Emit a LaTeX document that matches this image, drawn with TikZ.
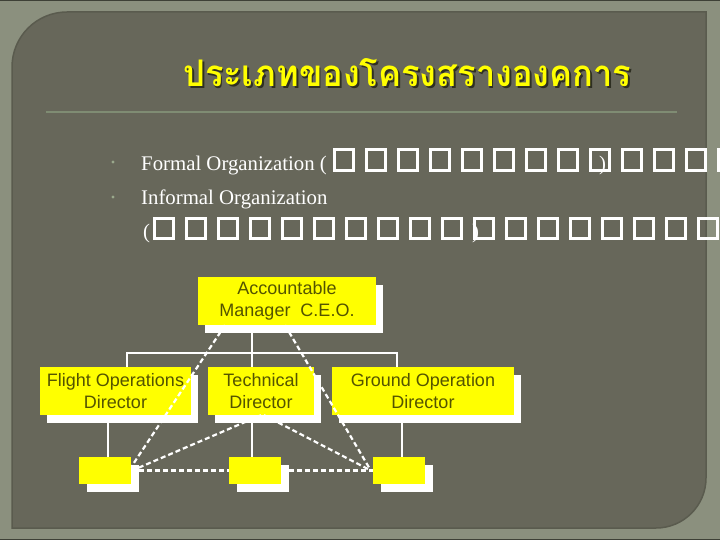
\documentclass[tikz,border=0pt]{standalone}
\usepackage{fontspec}
\setmainfont{Liberation Serif}
\newfontfamily\boxfont{Liberation Sans}
\newfontfamily\thaifont[Script=Thai]{Loma}
\usetikzlibrary{shadows}
\definecolor{framec}{HTML}{8B907E}
\definecolor{panelc}{HTML}{67675A}
\definecolor{rimc}{HTML}{5A5B4E}
\definecolor{edgec}{HTML}{3E4036}
\definecolor{rulec}{HTML}{7F8C73}
\definecolor{bulletc}{HTML}{9AA88C}
\definecolor{boxyellow}{HTML}{FFFF00}
\definecolor{boxtext}{HTML}{545400}
\definecolor{titleshadow}{HTML}{2E2F22}
\newcommand{\titletext}{ประเภทของโครงสรางองคการ}
\newcommand{\titlebox}[1]{\resizebox{448pt}{28pt}{\thaifont\bfseries\textcolor{#1}{\titletext}}}
\tikzset{
  orgbox/.style={fill=boxyellow, text=boxtext, align=center, inner sep=0pt,
    font=\boxfont\fontsize{18}{21.5}\selectfont, minimum height=48pt,
    drop shadow={shadow xshift=7pt, shadow yshift=-7.5pt, fill=white, opacity=1}},
  smallbox/.style={fill=boxyellow, inner sep=0pt, minimum height=27pt, minimum width=52pt,
    drop shadow={shadow xshift=8pt, shadow yshift=-8pt, fill=white, opacity=1}},
  conn/.style={draw=white, line width=1.8pt},
  informal/.style={draw=white, line width=2.2pt, dash pattern=on 5pt off 3pt},
  tofu/.style={draw=white, line width=3pt},
  bodytext/.style={text=white, inner sep=0pt, anchor=base west, font=\fontsize{20.8}{24}\selectfont},
}
\begin{document}
\begin{tikzpicture}[x=1pt,y=-1pt]
\useasboundingbox (0,0) rectangle (720,540);
% frame and panel
\fill[framec] (0,0) rectangle (720,540);
\fill[edgec] (0,0) rectangle (720,1.5);
\fill[edgec] (0,538.5) rectangle (720,540);
\filldraw[fill=panelc, draw=rimc, line width=1.5pt]
  (12,528) -- (12,67) .. controls (12,36.6) and (36.6,12) .. (67,12)
  -- (706,12) -- (706,478) .. controls (706,505.6) and (683.6,528) .. (656,528) -- cycle;
% title (with its shadow in the same text)
\node[anchor=base west, inner sep=0pt] (title) at (183,87)
  {\makebox[0pt][l]{\raisebox{-1.8pt}{\hspace{1.8pt}\titlebox{titleshadow}}}\titlebox{boxyellow}};
\draw[rulec, line width=2pt] (46,112) -- (677,112);
% bullets
\fill[bulletc] (113,162) circle (1.7pt);
\fill[bulletc] (113,197) circle (1.7pt);
\node[bodytext] (formal) at (141,171) {Formal Organization (};
\node[bodytext] (informal) at (141,205) {Informal Organization};
\node[bodytext] (openp) at (143,239) {(};
\foreach \k in {0,...,12}
  \draw[tofu] ({334.5+32*\k},149.5) rectangle ({353.5+32*\k},170.5);
\foreach \k in {0,...,17}
  \draw[tofu] ({154.5+32*\k},218.5) rectangle ({173.5+32*\k},238.5);
\node[bodytext] (closep1) at (599,171) {)};
\node[bodytext] (closep2) at (472,239) {)};
% org chart
\node[orgbox, minimum width=178pt] (ceo) at (287,301) {Accountable\\Manager\ \ C.E.O.};
\node[orgbox, minimum width=151pt] (flight) at (115.5,391) {Flight Operations\\Director};
\node[orgbox, minimum width=106pt] (tech) at (261,391) {Technical\\Director};
\node[orgbox, minimum width=182pt] (ground) at (423,391) {Ground Operation\\Director};
\node[smallbox] (s1) at (105,470.5) {};
\node[smallbox] (s2) at (255,470.5) {};
\node[smallbox] (s3) at (399,470.5) {};
% formal connectors
\coordinate (busL) at (127,353);
\coordinate (busC) at (252,353);
\coordinate (busR) at (397,353);
\coordinate (dropL) at (108,440);
\coordinate (dropC) at (252,440);
\coordinate (dropR) at (402,440);
\draw[conn] (ceo.south -| busC) -- (tech.north -| busC);
\draw[conn] (flight.north -| busL) -- (busL) -- (busR) -- (ground.north -| busR);
\draw[conn] (flight.south -| dropL) -- (s1.north -| dropL);
\draw[conn] (tech.south -| dropC) -- (s2.north -| dropC);
\draw[conn] (ground.south -| dropR) -- (s3.north -| dropR);
% informal connectors
\draw[informal] ([xshift=-62pt]ceo.south) -- ([xshift=1pt,yshift=5pt]s1.east);
\draw[informal] ([xshift=-2pt]ceo.south) -- ([xshift=-2pt]s3.west);
\draw[informal] (tech.south) -- ([xshift=1pt]s1.east);
\draw[informal] ([xshift=3pt]tech.south) -- ([xshift=-2pt]s3.west);
\draw[informal] (s1.east) -- (s2.west);
\draw[informal] (s2.east) -- (s3.west);
\end{tikzpicture}
\end{document}
